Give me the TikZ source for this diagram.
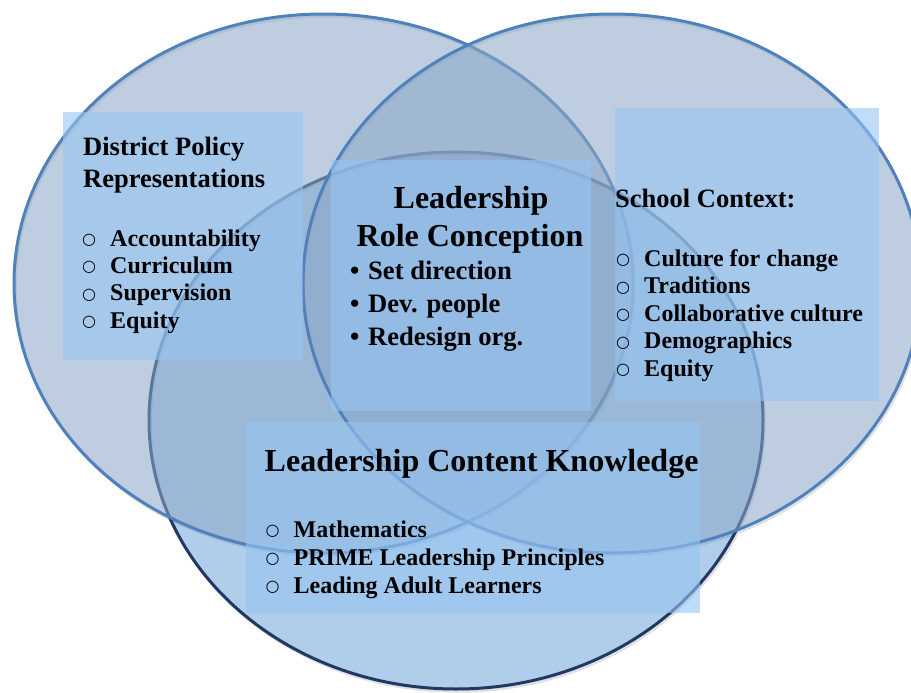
\documentclass[tikz,border=0pt]{standalone}
\usepackage{fontspec}
\setmainfont{Liberation Serif}
\newfontfamily\symfam{DejaVu Sans}
\usetikzlibrary{positioning}

\definecolor{ringblue}{RGB}{79,129,189}
\definecolor{ringnavy}{RGB}{31,56,100}
\definecolor{sidefill}{RGB}{140,168,200}
\definecolor{basefill}{RGB}{79,146,208}
\definecolor{boxfill}{RGB}{150,197,243}

\newcommand{\ob}{\makebox[28pt][l]{\raisebox{1.5pt}{\symfam\mdseries\fontsize{16}{16}\selectfont ○}}}
\newcommand{\fb}{\makebox[18pt][l]{\textbullet}}

\begin{document}
\begin{tikzpicture}[x=1pt,y=-1pt,
	ring/.style={line width=3pt},
	shade/.style={draw=black!12, line width=2.5pt},
	panel/.style={fill=boxfill, fill opacity=0.6},
	head/.style={font=\bfseries\fontsize{26.5}{31}\selectfont, inner sep=0pt, anchor=base west},
	bighead/.style={font=\bfseries\fontsize{32}{38}\selectfont, inner sep=0pt},
	item/.style={font=\bfseries\fontsize{24}{28}\selectfont, inner sep=0pt, anchor=base west},
	dot/.style={font=\bfseries\fontsize{26.6}{33}\selectfont, inner sep=0pt, anchor=base west}]
		\useasboundingbox (0,0) rectangle (911,693);
		% soft shadows
		\draw[shade] (457.5,423) ellipse [x radius=307pt, y radius=268.5pt];
		\draw[shade] (325,286) ellipse [x radius=309.5pt, y radius=269.5pt];
		\draw[shade] (613.5,286) ellipse [x radius=309pt, y radius=269.5pt];
		% the three rings
		\draw[ring, draw=ringnavy, fill=basefill, fill opacity=0.45] (456,420.5) ellipse [x radius=307pt, y radius=268.5pt];
		\draw[ring, draw=ringblue, fill=sidefill, fill opacity=0.57] (323.5,283.5) ellipse [x radius=309.5pt, y radius=269.5pt];
		\draw[ring, draw=ringblue, fill=sidefill, fill opacity=0.57] (612,283.5) ellipse [x radius=309pt, y radius=269.5pt];
		% text panels
		\fill[panel] (63,112) rectangle (303,360);
		\fill[panel] (331,160) rectangle (591,411);
		\fill[panel] (615,108) rectangle (879,401);
		\fill[panel] (246,422) rectangle (700,613);
		% district policy
		\node[head] (dp1) at (83,155) {District Policy};
		\node[head] (dp2) at (83,187) {Representations};
		\foreach \t [count=\i] in {Accountability,Curriculum,Supervision,Equity}
			\node[item] (dpi\i) at (82,{246+27.4*(\i-1)}) {\ob\t};
		% role conception
		\node[bighead, anchor=base] (rc1) at (471,208) {Leadership};
		\node[bighead, anchor=base] (rc2) at (470,246) {Role Conception};
		\foreach \t [count=\i] in {Set direction,Dev. people,Redesign org.}
			\node[dot] (rci\i) at (350,{279+33*(\i-1)}) {\fb\t};
		% school context
		\node[head] (sc) at (615,207) {School Context:};
		\foreach \t [count=\i] in {Culture for change,Traditions,Collaborative culture,Demographics,Equity}
			\node[item] (sci\i) at (616,{266+27.5*(\i-1)}) {\ob\t};
		% content knowledge
		\node[bighead, anchor=base west] (ck) at (264.5,471) {Leadership Content Knowledge};
		\foreach \t [count=\i] in {Mathematics,PRIME Leadership Principles,Leading Adult Learners}
			\node[item] (cki\i) at (265.5,{537+28*(\i-1)}) {\ob\t};
	\end{tikzpicture}
\end{document}
